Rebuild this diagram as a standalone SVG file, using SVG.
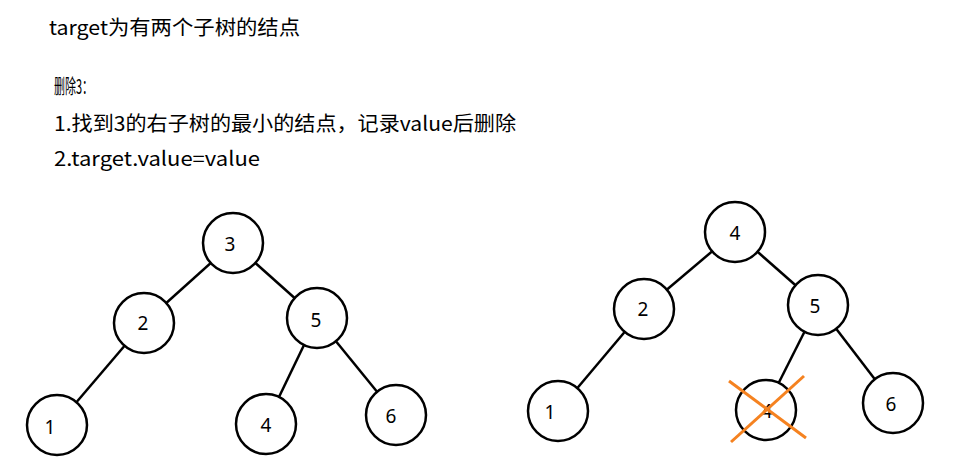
<svg xmlns="http://www.w3.org/2000/svg" width="974" height="470" viewBox="0 0 974 470">
<style>
.t{font-family:"Noto Sans CJK SC","Noto Sans",sans-serif;font-size:20px;fill:#000}
.n circle{fill:#fff;stroke:#000;stroke-width:2.5}
.n text{font-family:"Noto Sans","Noto Sans CJK SC",sans-serif;font-size:19px;text-anchor:middle;dominant-baseline:central}
.e line{stroke:#000;stroke-width:2.5}
.x line{stroke:#f58220;stroke-width:3}
</style>
<rect width="974" height="470" fill="#fff"/>
<text class="t" x="49" y="35" textLength="251" lengthAdjust="spacingAndGlyphs">target为有两个子树的结点</text>
<text class="t" x="54" y="94" textLength="39" lengthAdjust="spacingAndGlyphs">删除3：</text>
<text class="t" x="54" y="131" textLength="462" lengthAdjust="spacingAndGlyphs">1.找到3的右子树的最小的结点，记录value后删除</text>
<text class="t" x="54" y="166" textLength="206" lengthAdjust="spacingAndGlyphs">2.target.value=value</text>
<g id="edges" class="e">
<line x1="233" y1="243" x2="144" y2="323"/>
<line x1="233" y1="243" x2="317" y2="318"/>
<line x1="144" y1="323" x2="57" y2="425"/>
<line x1="317" y1="318" x2="266" y2="424"/>
<line x1="317" y1="318" x2="396" y2="415"/>
<line x1="735" y1="232" x2="644" y2="309"/>
<line x1="735" y1="232" x2="818" y2="305"/>
<line x1="644" y1="309" x2="558" y2="411"/>
<line x1="818" y1="305" x2="765" y2="410"/>
<line x1="818" y1="305" x2="893" y2="403"/>
</g>
<g id="L3" class="n"><circle cx="233" cy="243" r="30"/><text x="230" y="244">3</text></g>
<g id="L2" class="n"><circle cx="144" cy="323" r="30"/><text x="143" y="323">2</text></g>
<g id="L5" class="n"><circle cx="317" cy="318" r="30"/><text x="316" y="320">5</text></g>
<g id="L1" class="n"><circle cx="57" cy="425" r="30"/><text x="50" y="427">1</text></g>
<g id="L4" class="n"><circle cx="266" cy="424" r="30"/><text x="266" y="425">4</text></g>
<g id="L6" class="n"><circle cx="396" cy="415" r="30"/><text x="391" y="416">6</text></g>
<g id="R4" class="n"><circle cx="735" cy="232" r="30"/><text x="735" y="233">4</text></g>
<g id="R2" class="n"><circle cx="644" cy="309" r="30"/><text x="643" y="309">2</text></g>
<g id="R5" class="n"><circle cx="818" cy="305" r="30"/><text x="815" y="306">5</text></g>
<g id="R1" class="n"><circle cx="558" cy="411" r="30"/><text x="550" y="412">1</text></g>
<g id="R4x" class="n"><circle cx="766" cy="410" r="30"/><text x="767" y="411">4</text></g>
<g id="R6" class="n"><circle cx="893" cy="403" r="30"/><text x="891" y="404">6</text></g>
<g id="cross" class="x">
<line x1="729" y1="381" x2="806" y2="438"/>
<line x1="804" y1="376" x2="731" y2="442"/>
</g>
</svg>
